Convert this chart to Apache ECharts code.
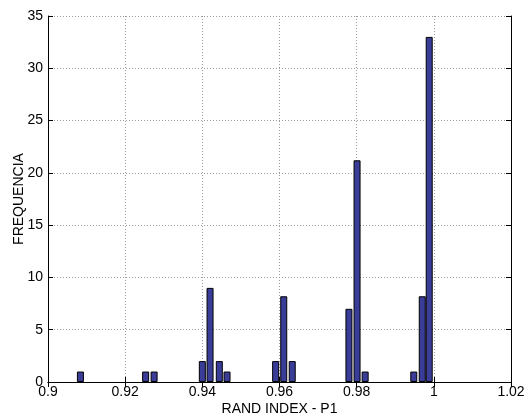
<!DOCTYPE html>
<html><head><meta charset="utf-8">
<script src="https://cdn.jsdelivr.net/npm/echarts@6/dist/echarts.min.js"></script>
<style>html,body{margin:0;padding:0;background:#fff}#c{width:527px;height:417px}</style>
</head><body><div id="c"></div>
<script>
const binCenters = [0.9084, 0.9253, 0.9275, 0.9400, 0.9420, 0.9444, 0.9464, 0.9590, 0.9611, 0.9633, 0.9780, 0.9801, 0.9822, 0.9948, 0.9970, 0.9988];
const counts     = [1, 1, 1, 2, 9, 2, 1, 2, 8.2, 2, 7, 21.2, 1, 1, 8.2, 33];
const xTicks = {min: 0.9, max: 1.02, interval: 0.02};
const yTicks = {min: 0, max: 35, interval: 5};
const xTitle = 'RAND INDEX - P1';
const yTitle = 'FREQUENCIA';

const font = 'Liberation Sans, Arial, Helvetica, sans-serif';
const fmtX = v => String(Math.round(v * 100) / 100);
const chart = echarts.init(document.getElementById('c'));
const gridLine = {show: true, lineStyle: {color: '#9a9a9a', type: [1, 2], width: 1}};
chart.setOption({
  animation: false,
  grid: {left: 48, right: 16, top: 16, bottom: 35, containLabel: false, outerBoundsMode: 'none'},
  xAxis: [{
    type: 'value', min: xTicks.min, max: xTicks.max, interval: xTicks.interval,
    name: xTitle, nameLocation: 'middle', nameGap: 20, nameMoveOverlap: false,
    nameTextStyle: {fontFamily: font, fontSize: 14, color: '#000'},
    axisLine: {show: true, onZero: false, lineStyle: {color: '#000', width: 1}},
    axisTick: {show: true, inside: true, length: 5, lineStyle: {color: '#000'}},
    axisLabel: {formatter: fmtX, fontFamily: font, fontSize: 14, color: '#000', margin: 3},
    splitLine: gridLine
  }, {
    type: 'value', position: 'top', min: xTicks.min, max: xTicks.max, interval: xTicks.interval,
    axisLine: {show: true, lineStyle: {color: '#000', width: 1}},
    axisTick: {show: true, inside: true, length: 5, lineStyle: {color: '#000'}},
    axisLabel: {show: false}, splitLine: {show: false}
  }],
  yAxis: [{
    type: 'value', min: yTicks.min, max: yTicks.max, interval: yTicks.interval,
    name: yTitle, nameLocation: 'middle', nameGap: 22, nameRotate: 90, nameMoveOverlap: false,
    nameTextStyle: {fontFamily: font, fontSize: 14, color: '#000'},
    axisLine: {show: true, lineStyle: {color: '#000', width: 1}},
    axisTick: {show: true, inside: true, length: 5, lineStyle: {color: '#000'}},
    axisLabel: {fontFamily: font, fontSize: 14, color: '#000', margin: 5},
    splitLine: gridLine
  }, {
    type: 'value', position: 'right', min: yTicks.min, max: yTicks.max, interval: yTicks.interval,
    axisLine: {show: true, lineStyle: {color: '#000', width: 1}},
    axisTick: {show: true, inside: true, length: 5, lineStyle: {color: '#000'}},
    axisLabel: {show: false}, splitLine: {show: false}
  }],
  series: [{
    type: 'bar', xAxisIndex: 0, yAxisIndex: 0,
    data: binCenters.map((x, i) => [x, counts[i]]),
    barWidth: 7,
    itemStyle: {color: '#3a3d98', borderColor: '#000', borderWidth: 1}
  }]
});
</script></body></html>
